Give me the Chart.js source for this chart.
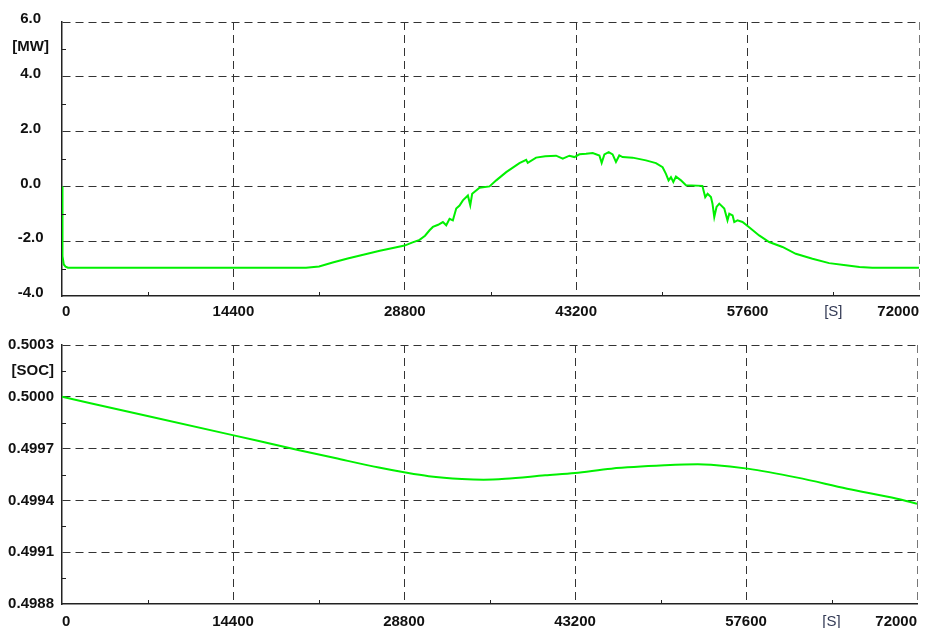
<!DOCTYPE html>
<html>
<head>
<meta charset="utf-8">
<script src="https://cdn.jsdelivr.net/npm/chart.js@4/dist/chart.umd.min.js"></script>
<style>
html,body{margin:0;padding:0;background:#fff;}
.box{position:absolute;left:0;width:926px;}
#b1{top:0;height:332px;}
#b2{top:320px;height:308px;}
</style>
</head>
<body>
<div class="box" id="b1"><canvas id="c1"></canvas></div>
<div class="box" id="b2"><canvas id="c2"></canvas></div>
<script>
// ---- data ----
const timeP = [0, 20, 60, 150, 300, 500, 1200, 20500, 21600, 22740, 24000, 25570, 26700, 27800, 28780, 29400, 30040, 30500, 30880, 31160, 31600, 32000, 32280, 32560, 32840, 33120, 33400, 33680, 34100, 34300, 34460, 35080, 35920, 36480, 37320, 38430, 39000, 39130, 39830, 40600, 41510, 42070, 42630, 43050, 43470, 44030, 44590, 45150, 45340, 45570, 45930, 46260, 46540, 46820, 47100, 47940, 49060, 49900, 50460, 50740, 50960, 51160, 51360, 51580, 52000, 52420, 53800, 54040, 54240, 54520, 54650, 54800, 54990, 55220, 55640, 55910, 56060, 56340, 56480, 56750, 57170, 57730, 58570, 59410, 60530, 61650, 63050, 64450, 65850, 67000, 68080, 72000];
const powerMW = [0, -2.0, -2.55, -2.85, -2.93, -2.97, -2.97, -2.97, -2.92, -2.78, -2.63, -2.47, -2.35, -2.25, -2.16, -2.05, -1.95, -1.8, -1.6, -1.48, -1.4, -1.3, -1.42, -1.18, -1.24, -0.81, -0.7, -0.51, -0.33, -0.69, -0.27, -0.05, 0.0, 0.22, 0.52, 0.85, 0.97, 0.86, 1.05, 1.1, 1.12, 1.01, 1.12, 1.07, 1.17, 1.19, 1.22, 1.13, 0.86, 1.17, 1.25, 1.17, 0.89, 1.13, 1.07, 1.05, 0.95, 0.85, 0.7, 0.46, 0.22, 0.34, 0.16, 0.36, 0.22, 0.04, 0.02, -0.39, -0.27, -0.39, -0.63, -1.12, -0.75, -0.63, -0.81, -1.24, -1.0, -1.06, -1.3, -1.24, -1.3, -1.49, -1.79, -2.03, -2.21, -2.46, -2.64, -2.8, -2.88, -2.94, -2.97, -2.97];

const timeS = [0, 7200, 14370, 19970, 23000, 26680, 28920, 30880, 33680, 35500, 37320, 40680, 43200, 46260, 50740, 53540, 54650, 57730, 61930, 66120, 70320, 72000];
const soc = [0.5, 0.499889, 0.499778, 0.499691, 0.499645, 0.49959, 0.499561, 0.49954, 0.499524, 0.49952, 0.499525, 0.499545, 0.499559, 0.499584, 0.499603, 0.499609, 0.499606, 0.499584, 0.499532, 0.499468, 0.49941, 0.499381];

const xTicks = [0, 7200, 14400, 21600, 28800, 36000, 43200, 50400, 57600, 64800, 72000];
const xMajor = [0, 14400, 28800, 43200, 57600, 72000];
const yTicksP = [-4, -3, -2, -1, 0, 1, 2, 3, 4, 5, 6];
const yMajorP = [-4, -2, 0, 2, 4, 6];
const yTicksS = [0.4988, 0.49895, 0.4991, 0.49925, 0.4994, 0.49955, 0.4997, 0.49985, 0.5, 0.50015, 0.5003];
const yMajorS = [0.4988, 0.4991, 0.4994, 0.4997, 0.5, 0.5003];
const unitX = '[S]';
const unitP = '[MW]';
const unitS = '[SOC]';

// ---- helpers ----
const FONT = "'Liberation Sans', Arial, sans-serif";
const GRID = '#333';
const near = (a, b) => Math.abs(a - b) < 1e-9;
const isIn = (arr, v) => arr.some(a => near(a, v));
const tv = ctx => (ctx && ctx.tick) ? ctx.tick.value : NaN;

const minorTicks = {
  id: 'minorTicks',
  afterDraw(chart) {
    const ctx = chart.ctx, a = chart.chartArea;
    const xs = chart.scales.x, ys = chart.scales.y;
    const major = chart.options.plugins.minorTicks;
    ctx.save();
    ctx.strokeStyle = '#222';
    ctx.lineWidth = 1;
    ctx.beginPath();
    xs.ticks.forEach(t => {
      if (!isIn(major.x, t.value)) {
        const px = Math.round(xs.getPixelForValue(t.value)) + 0.5;
        ctx.moveTo(px, a.bottom); ctx.lineTo(px, a.bottom - 4);
      }
    });
    ys.ticks.forEach(t => {
      if (!isIn(major.y, t.value)) {
        const py = Math.round(ys.getPixelForValue(t.value)) + 0.5;
        ctx.moveTo(a.left, py); ctx.lineTo(a.left + 4, py);
      }
    });
    ctx.stroke();
    ctx.restore();
  }
};

function xAxis(axisH, pad) {
  return {
    type: 'linear', min: 0, max: 72000,
    afterBuildTicks: s => { s.ticks = xTicks.map(v => ({value: v})); },
    afterFit: s => { s.height = axisH; },
    ticks: {
      autoSkip: false, maxRotation: 0, align: 'inner', padding: pad,
      color: ctx => (near(tv(ctx), 64800) ? '#333a55' : '#111'),
      font: ctx => (near(tv(ctx), 64800)
        ? {family: FONT, size: 15, weight: 'normal'}
        : {family: FONT, size: 15, weight: 'bold'}),
      callback: v => near(v, 64800) ? unitX : (isIn(xMajor, v) ? String(v) : '')
    },
    grid: {
      drawTicks: false,
      color: ctx => {
        const v = tv(ctx);
        if (!isIn(xMajor, v) || v === 0) return 'rgba(0,0,0,0)';
        return near(v, 72000) ? '#777' : GRID;
      },
      lineWidth: 1
    },
    border: {display: true, color: '#222', width: 1.5, dash: [8, 5]}
  };
}

function yAxis(min, max, ticksArr, majorArr, unitVal, unitLabel, fmt, pad, cross, offs) {
  return {
    type: 'linear', min: min, max: max,
    afterBuildTicks: s => { s.ticks = ticksArr.map(v => ({value: v})); },
    afterFit: s => { s.width = 62; },
    ticks: {
      autoSkip: false, padding: pad, color: '#111', crossAlign: cross, labelOffset: offs,
      font: {family: FONT, size: 15, weight: 'bold'},
      callback: v => near(v, unitVal) ? unitLabel : (isIn(majorArr, v) ? fmt(v) : '')
    },
    grid: {
      drawTicks: false,
      color: ctx => {
        const v = tv(ctx);
        return (isIn(majorArr, v) && !near(v, min)) ? GRID : 'rgba(0,0,0,0)';
      },
      lineWidth: 1
    },
    border: {display: true, color: '#222', width: 1.5, dash: [8, 5]}
  };
}

const common = {
  responsive: true, maintainAspectRatio: false, animation: false, devicePixelRatio: 1,
  plugins: {legend: {display: false}, tooltip: {enabled: false}}
};

new Chart(document.getElementById('c1'), {
  type: 'line',
  data: {datasets: [{
    data: timeP.map((t, i) => ({x: t, y: powerMW[i]})),
    borderColor: '#00f000', borderWidth: 2, pointRadius: 0, tension: 0, fill: false
  }]},
  options: Object.assign({}, common, {
    layout: {padding: {top: 16, right: 4, left: 0, bottom: 0}},
    plugins: Object.assign({}, common.plugins, {minorTicks: {x: xMajor, y: yMajorP}}),
    scales: {
      x: xAxis(36, 7),
      y: yAxis(-4, 6, yTicksP, yMajorP, 5, unitP, v => v.toFixed(1), 13, 'center', -3)
    }
  }),
  plugins: [minorTicks]
});

new Chart(document.getElementById('c2'), {
  type: 'line',
  data: {datasets: [{
    data: timeS.map((t, i) => ({x: t, y: soc[i]})),
    borderColor: '#00f000', borderWidth: 2, pointRadius: 0, cubicInterpolationMode: 'monotone', fill: false
  }]},
  options: Object.assign({}, common, {
    layout: {padding: {top: 25, right: 4, left: 0, bottom: 0}},
    plugins: Object.assign({}, common.plugins, {minorTicks: {x: xMajor, y: yMajorS}}),
    scales: {
      x: xAxis(24, 9),
      y: yAxis(0.4988, 0.5003, yTicksS, yMajorS, 0.50015, unitS, v => v.toFixed(4), 8, 'near', 0)
    }
  }),
  plugins: [minorTicks]
});
</script>
</body>
</html>
